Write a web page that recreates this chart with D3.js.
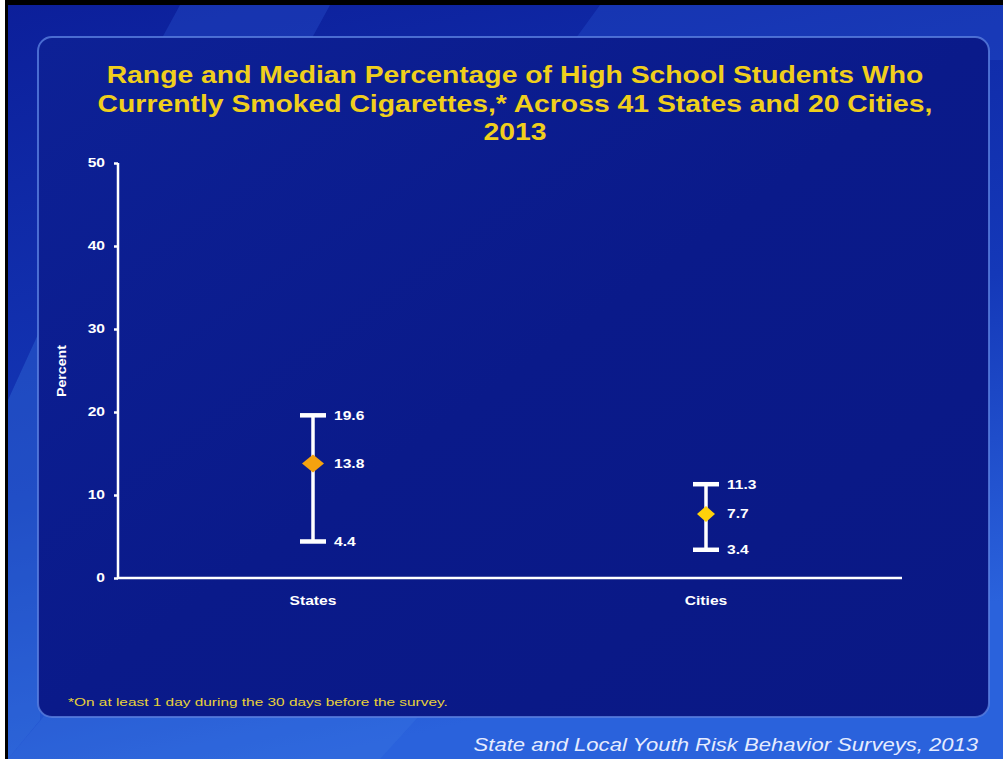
<!DOCTYPE html>
<html><head><meta charset="utf-8">
<script src="https://cdn.jsdelivr.net/npm/d3@7"></script>
<style>html,body{margin:0;padding:0;background:#000;}svg{display:block;}</style>
</head><body>
<script>
const categories = ["States", "Cities"];
const minValues = [4.4, 3.4];
const medianValues = [13.8, 7.7];
const maxValues = [19.6, 11.3];
const yTicks = [0, 10, 20, 30, 40, 50];
const titleLines = ["Range and Median Percentage of High School Students Who",
  "Currently Smoked Cigarettes,* Across 41 States and 20 Cities,", "2013"];
const footnote = "*On at least 1 day during the 30 days before the survey.";
const source = "State and Local Youth Risk Behavior Surveys, 2013";
const diamondColors = ["#f5a20f", "#ffd20a"];
const diamondSizes = [[11, 9], [9, 8]];

const W = 1003, H = 759;
const FONT = "Liberation Sans, Arial, sans-serif";
const svg = d3.select("body").append("svg").attr("width", W).attr("height", H);
const defs = svg.append("defs");

function stretch(sel, f) {
  sel.each(function() {
    const L = this.getComputedTextLength();
    d3.select(this).attr("textLength", L * f).attr("lengthAdjust", "spacingAndGlyphs");
  });
  return sel;
}

const bg = defs.append("linearGradient").attr("id","bg").attr("x1",0).attr("y1",0).attr("x2",0.3).attr("y2",1);
bg.append("stop").attr("offset","0%").attr("stop-color","#0c1f9a");
bg.append("stop").attr("offset","60%").attr("stop-color","#1438b8");
bg.append("stop").attr("offset","100%").attr("stop-color","#2a62dc");
const pg = defs.append("linearGradient").attr("id","pg").attr("x1",0).attr("y1",0).attr("x2",1).attr("y2",1);
pg.append("stop").attr("offset","0%").attr("stop-color","#0d2196");
pg.append("stop").attr("offset","50%").attr("stop-color","#0a1a8a");
pg.append("stop").attr("offset","100%").attr("stop-color","#0a1884");

// frame
svg.append("rect").attr("x",0).attr("y",0).attr("width",W).attr("height",H).attr("fill","#000");
svg.append("rect").attr("x",0).attr("y",0).attr("width",5).attr("height",H).attr("fill","#fff");
svg.append("rect").attr("x",8).attr("y",5).attr("width",W-8).attr("height",H-5).attr("fill","url(#bg)");
// decorative light shapes
svg.append("path").attr("d","M180,5 L330,5 L300,60 L150,60 Z").attr("fill","#2a55d0").attr("opacity",0.35);
svg.append("path").attr("d","M600,5 L1003,5 L1003,60 L560,60 Z").attr("fill","#2a5ad8").attr("opacity",0.3);
svg.append("path").attr("d","M8,400 L40,330 L40,720 L8,759 Z").attr("fill","#3a78e0").attr("opacity",0.35);
svg.append("path").attr("d","M8,759 L45,715 L420,715 L380,759 Z").attr("fill","#3a78e0").attr("opacity",0.3);

// panel
svg.append("rect").attr("x",38).attr("y",37).attr("width",951).attr("height",680).attr("rx",14)
  .attr("fill","url(#pg)").attr("stroke","#5a7fe0").attr("stroke-width",2).attr("stroke-opacity",0.8);

// title
const title = svg.append("g").attr("fill","#f0cf1c")
  .attr("font-family",FONT).attr("font-weight","bold").attr("font-size",24);
titleLines.forEach((t,i)=>{
  stretch(title.append("text").attr("text-anchor","middle").attr("x",515).attr("y",83+i*28.5).text(t), 1.18);
});

// scales
const y = d3.scaleLinear().domain([0,50]).range([578,163]);
const x = d3.scalePoint().domain(categories).range([313,706]);

const yAxis = svg.append("g").attr("transform","translate(118,0)")
  .call(d3.axisLeft(y).tickValues(yTicks).tickSize(4).tickPadding(9));
yAxis.select(".domain").attr("stroke","#fff").attr("stroke-width",2.5).attr("d","M0,163V578");
yAxis.selectAll(".tick line").attr("stroke","#fff").attr("stroke-width",2.5);
stretch(yAxis.selectAll(".tick text").attr("fill","#fff").attr("font-size",12).attr("font-weight","bold")
  .attr("font-family",FONT), 1.3);

svg.append("line").attr("x1",117).attr("x2",902).attr("y1",y(0)).attr("y2",y(0))
  .attr("stroke","#fff").attr("stroke-width",2.5);

stretch(svg.append("text").attr("transform","translate(66,371) rotate(-90)").attr("text-anchor","middle")
  .attr("fill","#fff").attr("font-size",12).attr("font-weight","bold")
  .attr("font-family",FONT).text("Percent"), 1.18);

categories.forEach((c,i)=>{
  const cx = x(c);
  const g = svg.append("g");
  g.append("line").attr("x1",cx).attr("x2",cx).attr("y1",y(maxValues[i])).attr("y2",y(minValues[i]))
    .attr("stroke","#fff").attr("stroke-width",3.5);
  [maxValues[i], minValues[i]].forEach(v=>{
    g.append("line").attr("x1",cx-13).attr("x2",cx+13).attr("y1",y(v)).attr("y2",y(v))
      .attr("stroke","#fff").attr("stroke-width",4.5);
  });
  const [dw, dh] = diamondSizes[i];
  const my = y(medianValues[i]);
  g.append("path").attr("d",`M${cx},${my-dh}L${cx+dw},${my}L${cx},${my+dh}L${cx-dw},${my}Z`)
    .attr("fill",diamondColors[i]);
  [maxValues[i], medianValues[i], minValues[i]].forEach(v=>{
    stretch(g.append("text").attr("x",cx+21).attr("y",y(v)).attr("dy","0.36em").attr("fill","#fff")
      .attr("font-size",12).attr("font-weight","bold").attr("font-family",FONT)
      .text(v.toFixed(1)), 1.3);
  });
  stretch(svg.append("text").attr("x",cx).attr("y",605).attr("text-anchor","middle").attr("fill","#fff")
    .attr("font-size",12).attr("font-weight","bold").attr("font-family",FONT).text(c), 1.3);
});

stretch(svg.append("text").attr("x",68).attr("y",706).attr("fill","#e8d23a").attr("font-size",11)
  .attr("font-family",FONT).text(footnote), 1.4);
stretch(svg.append("text").attr("x",978).attr("y",751).attr("text-anchor","end").attr("fill","#e6ecff")
  .attr("font-size",19).attr("font-style","italic").attr("font-family",FONT).text(source), 1.16);
</script>
</body></html>
